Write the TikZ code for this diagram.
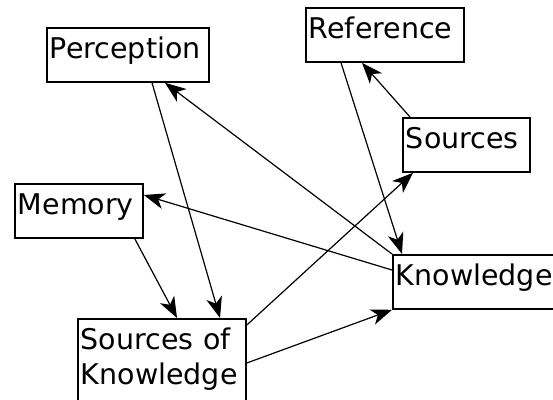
\documentclass[tikz,border=0pt]{standalone}
\usepackage{fontspec}
\setmainfont{DejaVu Sans}
\usetikzlibrary{arrows.meta}

\tikzset{
  box/.style={draw, line width=1.8pt, anchor=north west, inner xsep=3pt, inner ysep=1.5pt,
    align=left, text height=29pt, text depth=22pt, font=\fontsize{28.5}{35}\selectfont},
  link/.style={line width=1.2pt, -{Stealth[length=21pt,width=16pt,inset=6pt]}}
}

\begin{document}
\begin{tikzpicture}[x=1pt,y=-1pt]
\useasboundingbox (0,0) rectangle (553,399);
% boxes
\node[box, text width=156pt] (perc) at (46,27) {Perception};
\node[box, text width=152pt] (ref) at (305,7) {Reference};
\node[box, text width=121pt] (src) at (402,117) {Sources};
\node[box, text width=122pt] (mem) at (14,183) {Memory};
\node[box, text width=180pt] (know) at (392,254) {Knowledge};
\node[box, text width=162pt, text depth=70pt] (sok) at (77,318) {Sources of\\Knowledge};
% links
\draw[link] ([xshift=106pt]perc.south west) -- ([xshift=143pt]sok.north west);
\draw[link] (know.north west) -- ([xshift=119pt]perc.south west);
\draw[link] ([xshift=36pt]ref.south west) -- ([xshift=10pt]know.north west);
\draw[link] ([xshift=8pt]src.north west) -- ([xshift=57pt]ref.south west);
\draw[link] ([yshift=-7pt]sok.north east) -- ([xshift=11pt]src.south west);
\draw[link] ([yshift=-16pt]know.north west) -- ([yshift=-12pt]mem.north east);
\draw[link] ([xshift=-9pt]mem.south east) -- ([xshift=100pt]sok.north west);
\draw[link] ([yshift=-45pt]sok.north east) -- (know.south west);
\end{tikzpicture}
\end{document}
